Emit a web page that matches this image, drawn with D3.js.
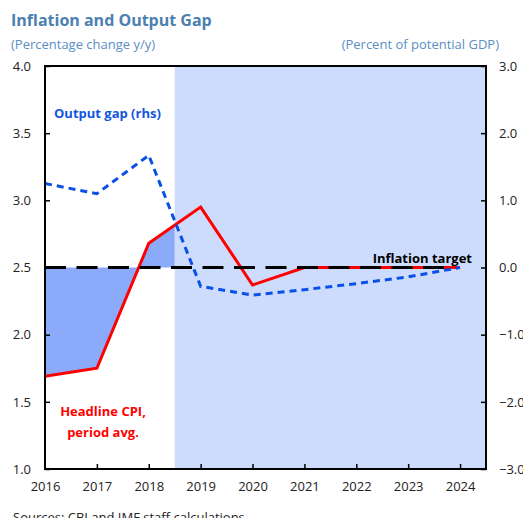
<!DOCTYPE html>
<html>
<head>
<meta charset="utf-8">
<script src="https://cdn.jsdelivr.net/npm/d3@7"></script>
<style>
  body { margin: 0; background: #fff; }
  svg { font-family: "Open Sans", "Noto Sans", sans-serif; }
</style>
</head>
<body>
<svg id="chart" width="523" height="518"></svg>
<script>
const years = [2016, 2017, 2018, 2019, 2020, 2021, 2022, 2023, 2024];
const cpi = [1.69, 1.75, 2.68, 2.95, 2.37, 2.5, 2.5, 2.5, 2.5];
const outputGap = [1.25, 1.1, 1.67, -0.28, -0.41, -0.33, -0.24, -0.14, 0.0];
const target = 2.5;
const projectionStart = 2018.5;
const leftTicks = [1.0, 1.5, 2.0, 2.5, 3.0, 3.5, 4.0];
const rightTicks = [-3, -2, -1, 0, 1, 2, 3];

const svg = d3.select("#chart");
const plotL = 45, plotR = 486, plotT = 66, plotB = 469;

const x = d3.scaleLinear().domain([2016, 2024.5]).range([plotL, plotR]);
const y = d3.scaleLinear().domain([1, 4]).range([plotB, plotT]);
const y2 = d3.scaleLinear().domain([-3, 3]).range([plotB, plotT]);

// projection shading
svg.append("rect")
  .attr("x", x(projectionStart)).attr("y", plotT)
  .attr("width", x(2024.5) - x(projectionStart)).attr("height", plotB - plotT)
  .attr("fill", "#cddcfc");

// gap between CPI and target, up to the projection start
const histYears = years.filter((d) => d <= 2018).concat([projectionStart]);
const interpCpi = (t) => {
  const i = d3.bisectLeft(years, t);
  if (years[i] === t) return cpi[i];
  const f = (t - years[i - 1]) / (years[i] - years[i - 1]);
  return cpi[i - 1] + f * (cpi[i] - cpi[i - 1]);
};
svg.append("path")
  .datum(histYears)
  .attr("fill", "#8caafa")
  .attr("d", d3.area()
    .x((d) => x(d))
    .y0(y(target))
    .y1((d) => y(interpCpi(d))));

// CPI line
svg.append("path")
  .datum(years.map((d, i) => [d, cpi[i]]))
  .attr("fill", "none")
  .attr("stroke", "#ff0000")
  .attr("stroke-width", 3)
  .attr("d", d3.line().x((d) => x(d[0])).y((d) => y(d[1])));

// inflation target
svg.append("line")
  .attr("x1", x(2016)).attr("x2", x(2024) - 6)
  .attr("y1", y(target)).attr("y2", y(target))
  .attr("stroke", "#000")
  .attr("stroke-width", 3)
  .attr("stroke-dasharray", "21 10.5");

// output gap
svg.append("path")
  .datum(years.map((d, i) => [d, outputGap[i]]))
  .attr("fill", "none")
  .attr("stroke", "#0a50e6")
  .attr("stroke-width", 3)
  .attr("stroke-dasharray", "7 5")
  .attr("d", d3.line().x((d) => x(d[0])).y((d) => y2(d[1])));

// frame
svg.append("rect")
  .attr("x", plotL).attr("y", plotT)
  .attr("width", plotR - plotL).attr("height", plotB - plotT)
  .attr("fill", "none").attr("stroke", "#000").attr("stroke-width", 2);

// axes
const axisLeft = svg.append("g")
  .attr("transform", `translate(${plotL},0)`)
  .call(d3.axisLeft(y).tickValues(leftTicks).tickSize(-5)
    .tickFormat(d3.format(".1f")));
const axisRight = svg.append("g")
  .attr("transform", `translate(${plotR},0)`)
  .call(d3.axisRight(y2).tickValues(rightTicks).tickSize(-5)
    .tickFormat(d3.format(".1f")));
const axisBottom = svg.append("g")
  .attr("transform", `translate(0,${plotB})`)
  .call(d3.axisBottom(x).tickValues(years).tickSize(-5)
    .tickFormat(d3.format("d")));

[axisLeft, axisRight, axisBottom].forEach((g) => {
  g.select(".domain").remove();
  g.selectAll("line").attr("stroke", "#000").attr("stroke-width", 1.5);
  g.selectAll("text").attr("font-size", 13).attr("fill", "#222")
    .attr("font-family", "Open Sans, Noto Sans, sans-serif");
});
axisLeft.selectAll("text").attr("x", -14);
axisRight.selectAll("text").attr("x", 13).attr("text-anchor", "start");
axisBottom.selectAll("text").attr("y", 13);
axisBottom.selectAll(".tick").filter((d) => d === 2016).select("line").remove();

// titles
svg.append("text")
  .attr("x", 11).attr("y", 26)
  .attr("font-size", 16).attr("font-weight", "bold").attr("fill", "#4b80b0")
  .text("Inflation and Output Gap");
svg.append("text")
  .attr("x", 11).attr("y", 49)
  .attr("font-size", 13).attr("fill", "#5a8fc4")
  .text("(Percentage change y/y)");
svg.append("text")
  .attr("x", 499).attr("y", 49).attr("text-anchor", "end")
  .attr("font-size", 13).attr("fill", "#5a8fc4")
  .text("(Percent of potential GDP)");

// annotations
svg.append("text")
  .attr("x", 54).attr("y", 118)
  .attr("font-size", 13).attr("font-weight", "bold").attr("fill", "#1155e0")
  .text("Output gap (rhs)");
svg.append("text")
  .attr("x", 472).attr("y", 263).attr("text-anchor", "end")
  .attr("font-size", 13).attr("font-weight", "bold").attr("fill", "#000")
  .text("Inflation target");
svg.append("text")
  .attr("x", 103).attr("y", 416).attr("text-anchor", "middle")
  .attr("font-size", 13).attr("font-weight", "bold").attr("fill", "#ff0000")
  .text("Headline CPI,");
svg.append("text")
  .attr("x", 103).attr("y", 437).attr("text-anchor", "middle")
  .attr("font-size", 13).attr("font-weight", "bold").attr("fill", "#ff0000")
  .text("period avg.");

svg.append("text")
  .attr("x", 13).attr("y", 522)
  .attr("font-size", 13).attr("fill", "#222")
  .text("Sources: CBI and IMF staff calculations.");
</script>
</body>
</html>
